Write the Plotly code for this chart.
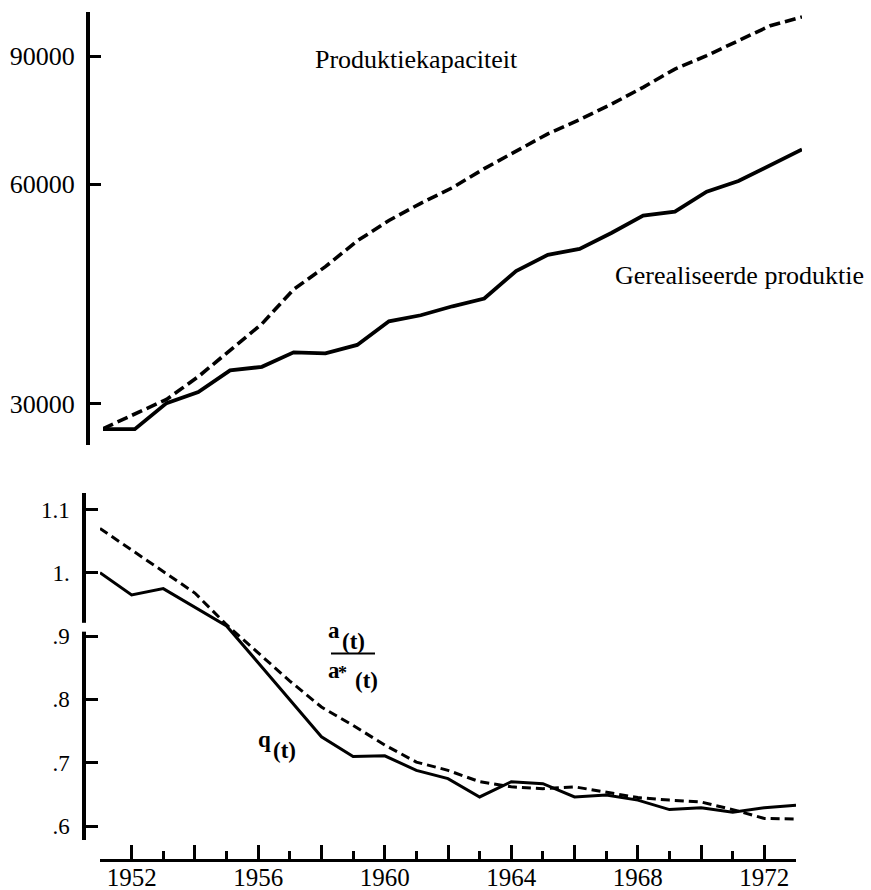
import math
import plotly.graph_objects as go

# ---------------- data ----------------
years = list(range(1951, 1974))
capacity = [27700, 29050, 30380, 32650, 35530, 38580, 43030, 46240, 50160, 53520,
            56500, 59370, 63060, 66600, 70390, 73640, 77300, 81550, 86400, 90150,
            94500, 99100, 101900]
production = [27650, 27650, 30030, 31090, 33300, 33680, 35260, 35150, 36100, 38900,
              39650, 40790, 41810, 45600, 48000, 48920, 51430, 54360, 55020, 58630,
              60640, 63680, 67000]
q_t = [1.0, 0.965, 0.975, 0.946, 0.916, 0.858, 0.800, 0.741, 0.710, 0.711,
       0.688, 0.675, 0.646, 0.670, 0.667, 0.646, 0.649, 0.641, 0.626, 0.629,
       0.622, 0.629, 0.633]
a_ratio = [1.070, 1.036, 1.002, 0.968, 0.918, 0.873, 0.829, 0.788, 0.759, 0.728,
           0.701, 0.688, 0.670, 0.662, 0.659, 0.662, 0.654, 0.645, 0.641, 0.638,
           0.626, 0.612, 0.611]

top_tickvals = [30000, 60000, 90000]
top_ticktext = ["30000", "60000", "90000"]
bot_tickvals = [0.6, 0.7, 0.8, 0.9, 1.0, 1.1]
bot_ticktext = [".6", ".7", ".8", ".9", "1.", "1.1"]
x_major = list(range(1952, 1974, 2))
x_major_text = [str(y) if y % 4 == 0 else "" for y in x_major]
x_minor = list(range(1951, 1974, 2))

W, H = 871, 890
def px(x):
    return x / W
def py(y):
    return 1 - y / H

FONT = "Liberation Serif, Tinos, Times New Roman, DejaVu Serif, serif"
BLACK = "#000000"

fig = go.Figure()
fig.add_trace(go.Scatter(x=years, y=capacity, mode="lines", xaxis="x", yaxis="y",
                         line=dict(color=BLACK, width=3.6, dash="11px,5px"),
                         showlegend=False, hoverinfo="skip"))
fig.add_trace(go.Scatter(x=years, y=production, mode="lines", xaxis="x", yaxis="y",
                         line=dict(color=BLACK, width=3.8),
                         showlegend=False, hoverinfo="skip"))
fig.add_trace(go.Scatter(x=years, y=a_ratio, mode="lines", xaxis="x2", yaxis="y2",
                         line=dict(color=BLACK, width=3.0, dash="9px,5px"),
                         showlegend=False, hoverinfo="skip"))
fig.add_trace(go.Scatter(x=years, y=q_t, mode="lines", xaxis="x2", yaxis="y2",
                         line=dict(color=BLACK, width=3.0),
                         showlegend=False, hoverinfo="skip"))

annotations = []
def txt(s, x, y, size, anchor="center", bold=False):
    if bold:
        s = "<b>" + s + "</b>"
    annotations.append(dict(text=s, x=px(x), y=py(y), xref="paper", yref="paper",
                            xanchor=anchor, yanchor="middle", showarrow=False,
                            font=dict(family=FONT, size=size, color=BLACK)))

txt("Produktiekapaciteit", 313, 59, 26, "left")
txt("Gerealiseerde produktie", 866, 275, 26, "right")
# a(t) / a*(t)
txt("a", 334, 630, 23, bold=True)
txt("(t)", 353, 641, 23, bold=True)
txt("a", 334, 670, 23, bold=True)
txt("*", 342, 673, 18, bold=True)
txt("(t)", 366.5, 680, 23, bold=True)
# q(t)
txt("q", 264, 739, 23, bold=True)
txt("(t)", 284.5, 750, 23, bold=True)

shapes = [
    # fraction bar
    dict(type="line", xref="paper", yref="paper", x0=px(331), x1=px(375),
         y0=py(653.5), y1=py(653.5), line=dict(color=BLACK, width=2.2)),
    # break in the lower panel's y axis
    dict(type="rect", xref="paper", yref="y2", x0=px(78), x1=px(90),
         y0=0.907, y1=0.921, fillcolor="white", line=dict(width=0)),
]

fig.update_layout(
    width=W, height=H,
    margin=dict(l=0, r=0, t=0, b=0, pad=0),
    paper_bgcolor="white", plot_bgcolor="white",
    showlegend=False,
    font=dict(family=FONT, color=BLACK),
    annotations=annotations,
    shapes=shapes,
    xaxis=dict(domain=[px(103), px(802)], range=[1951, 1973], visible=False,
               anchor="y", automargin=False),
    yaxis=dict(domain=[py(445), py(12)], type="log",
               range=[math.log10(26300), math.log10(103500)],
               anchor="free", position=px(88), automargin=False,
               showline=True, linecolor=BLACK, linewidth=4,
               showgrid=False, zeroline=False,
               ticks="inside", ticklen=11, tickwidth=3, tickcolor=BLACK,
               tickvals=top_tickvals, ticktext=top_ticktext,
               tickfont=dict(family=FONT, size=26, color=BLACK),
               ticklabelstandoff=6),
    xaxis2=dict(domain=[px(100), px(796)], range=[1951, 1973],
                anchor="free", position=py(860), automargin=False,
                showline=True, linecolor=BLACK, linewidth=3,
                showgrid=False, zeroline=False,
                ticks="inside", ticklen=14, tickwidth=3, tickcolor=BLACK,
                tickvals=x_major, ticktext=x_major_text,
                tickfont=dict(family=FONT, size=25, color=BLACK),
                ticklabelstandoff=-6,
                minor=dict(tickvals=x_minor, ticks="inside", ticklen=8,
                           tickwidth=3, tickcolor=BLACK, showgrid=False)),
    yaxis2=dict(domain=[py(840), py(493)], range=[0.578, 1.126],
                anchor="free", position=px(84), automargin=False,
                showline=True, linecolor=BLACK, linewidth=3.5,
                showgrid=False, zeroline=False,
                ticks="inside", ticklen=12, tickwidth=3, tickcolor=BLACK,
                tickvals=bot_tickvals, ticktext=bot_ticktext,
                tickfont=dict(family=FONT, size=23, color=BLACK),
                ticklabelstandoff=8),
)

fig.write_html(
    "out.html",
    config={"displayModeBar": False},
    post_script="document.body.style.margin='0';document.body.style.overflow='hidden';",
)
